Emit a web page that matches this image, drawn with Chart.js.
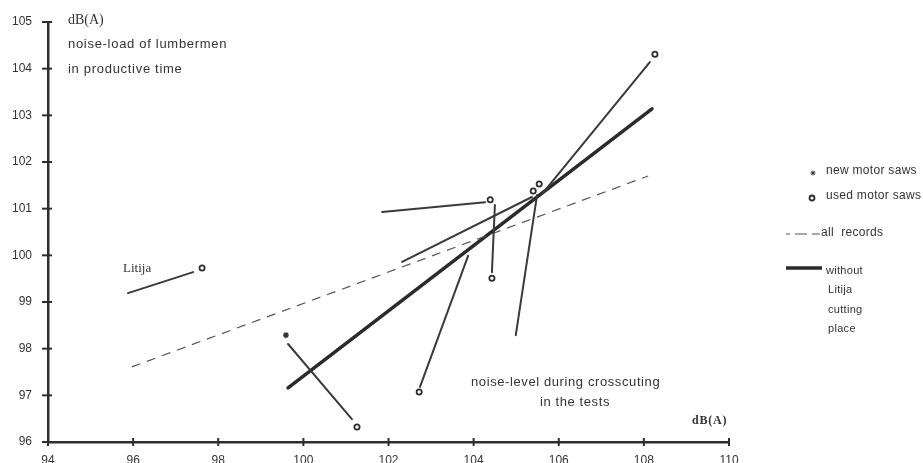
<!DOCTYPE html>
<html>
<head>
<meta charset="utf-8">
<script src="https://cdn.jsdelivr.net/npm/chart.js@4.4.1/dist/chart.umd.min.js"></script>
<style>
  html, body { margin: 0; padding: 0; background: #fff; }
  #wrap { width: 923px; height: 463px; }
</style>
</head>
<body>
<div id="wrap"><canvas id="noise" width="923" height="463"></canvas></div>
<script>
// dB(A): x = noise-level during crosscuting in the tests, y = noise-load in productive time
const xTicks = [94, 96, 98, 100, 102, 104, 106, 108, 110];
const yTicks = [96, 97, 98, 99, 100, 101, 102, 103, 104, 105];

// one line per motor saw (from -> to)
const sawFromX = [95.88, 99.64, 101.85, 104.50, 102.32, 105.49, 102.74, 105.63];
const sawFromY = [99.19, 98.10, 100.93, 101.08, 99.86, 101.29, 97.18, 101.34];
const sawToX   = [97.41, 101.14, 104.27, 104.43, 105.37, 104.99, 103.87, 108.14];
const sawToY   = [99.64, 96.49, 101.14, 99.64, 101.25, 98.29, 99.99, 104.14];

// markers
const usedSawX = [97.62, 101.26, 104.39, 104.43, 105.40, 105.54, 102.72, 108.26];
const usedSawY = [99.73, 96.32, 101.19, 99.51, 101.38, 101.53, 97.07, 104.31];
const newSawX = [99.59];
const newSawY = [98.29];

// regression lines
const allRecordsX = [95.97, 108.10];
const allRecordsY = [97.61, 101.70];
const withoutLitijaX = [99.64, 108.19];
const withoutLitijaY = [97.16, 103.14];

const ink = '#2e2e2e';
const textInk = '#333333';
const sans = '"Liberation Sans", Arial, sans-serif';
const serif = '"Liberation Serif", "Times New Roman", serif';

function pts(xs, ys) {
    return xs.map((x, i) => ({ x: x, y: ys[i] }));
}

const datasets = [];
sawFromX.forEach((x, i) => {
    datasets.push({
        label: 'saw ' + (i + 1),
        data: pts([x, sawToX[i]], [sawFromY[i], sawToY[i]]),
        showLine: true,
        borderColor: '#3a3a3a',
        borderWidth: 2,
        borderCapStyle: 'round',
        pointRadius: 0,
    });
});
datasets.push({
    label: 'all records',
    data: pts(allRecordsX, allRecordsY),
    showLine: true,
    borderColor: '#555',
    borderWidth: 1.2,
    borderDash: [9, 7],
    pointRadius: 0,
});
datasets.push({
    label: 'without Litija cutting place',
    data: pts(withoutLitijaX, withoutLitijaY),
    showLine: true,
    borderColor: '#2b2b2b',
    borderWidth: 3.5,
    borderCapStyle: 'round',
    pointRadius: 0,
});
datasets.push({
    label: 'used motor saws',
    data: pts(usedSawX, usedSawY),
    showLine: false,
    pointStyle: 'circle',
    pointRadius: 2.6,
    pointBorderWidth: 1.8,
    pointBackgroundColor: '#fff',
    pointBorderColor: ink,
});
datasets.push({
    label: 'new motor saws',
    data: pts(newSawX, newSawY),
    showLine: false,
    pointStyle: 'star',
    pointRadius: 3,
    pointBorderWidth: 1.4,
    pointBorderColor: ink,
});

// tick marks that cross the axes ("+" shape)
const crossTicks = {
    id: 'crossTicks',
    afterDraw(chart) {
        const c = chart.ctx, a = chart.chartArea;
        const xs = chart.scales.x, ys = chart.scales.y;
        c.save();
        c.strokeStyle = ink;
        c.lineWidth = 2;
        xTicks.forEach(v => {
            const px = xs.getPixelForValue(v);
            c.beginPath(); c.moveTo(px, a.bottom - 4); c.lineTo(px, a.bottom + 4); c.stroke();
        });
        yTicks.forEach(v => {
            const py = ys.getPixelForValue(v);
            c.beginPath(); c.moveTo(a.left - 6, py); c.lineTo(a.left + 4, py); c.stroke();
        });
        c.restore();
    }
};

// free text and the hand-made key on the right
const notes = {
    id: 'notes',
    afterDraw(chart) {
        const c = chart.ctx;
        c.save();
        c.fillStyle = textInk;
        c.textBaseline = 'middle';
        const say = (t, x, y, font, spacing, align) => {
            c.font = font;
            c.letterSpacing = spacing || '0px';
            c.textAlign = align || 'left';
            c.fillText(t, x, y);
        };
        say('dB(A)', 68, 20, '14px ' + serif);
        say('noise-load of lumbermen', 68, 44, '13px ' + sans, '0.7px');
        say('in productive time', 68, 69, '13px ' + sans, '0.7px');
        say('Litija', 123, 269, '13px ' + serif);
        say('noise-level during crosscuting', 471, 382, '13px ' + sans, '0.6px');
        say('in the tests', 575, 402, '13px ' + sans, '0.6px', 'center');
        say('dB(A)', 692, 421, 'bold 12px ' + serif, '0.8px');

        // key
        c.strokeStyle = ink;
        Chart.helpers.drawPoint(c, { pointStyle: 'star', radius: 2.5, borderWidth: 1.3 }, 813, 173);
        say('new motor saws', 826, 171, '12px ' + sans, '0.3px');
        c.lineWidth = 1.8;
        c.fillStyle = '#fff';
        Chart.helpers.drawPoint(c, { pointStyle: 'circle', radius: 2.5, borderWidth: 1.8 }, 812, 198);
        c.fillStyle = textInk;
        say('used motor saws', 826, 196, '12px ' + sans, '0.3px');

        c.lineWidth = 1.2;
        c.strokeStyle = '#555';
        c.beginPath();
        c.moveTo(786, 234); c.lineTo(790, 234);
        c.moveTo(795, 234); c.lineTo(807, 234);
        c.moveTo(812, 234); c.lineTo(820, 234);
        c.stroke();
        say('all  records', 821, 233, '12px ' + sans, '0.3px');

        c.lineWidth = 3.5;
        c.strokeStyle = '#2b2b2b';
        c.beginPath(); c.moveTo(786, 268); c.lineTo(822, 268); c.stroke();
        say('without', 826, 271, '11px ' + sans, '0.3px');
        say('Litija', 828, 290, '11px ' + sans, '0.3px');
        say('cutting', 828, 310, '11px ' + sans, '0.3px');
        say('place', 828, 329, '11px ' + sans, '0.3px');
        c.restore();
    }
};

new Chart(document.getElementById('noise').getContext('2d'), {
    type: 'scatter',
    data: { datasets: datasets },
    options: {
        responsive: false,
        animation: false,
        layout: { padding: { top: 22, right: 194, left: 0, bottom: 0 } },
        plugins: { legend: { display: false }, tooltip: { enabled: false } },
        scales: {
            x: {
                type: 'linear',
                min: 94,
                max: 110,
                afterFit: scale => { scale.height = 21; },
                afterBuildTicks: scale => { scale.ticks = xTicks.map(v => ({ value: v })); },
                grid: { display: false },
                border: { display: true, color: ink, width: 2.5 },
                ticks: { padding: 3, color: textInk, font: { family: sans, size: 12 } },
            },
            y: {
                type: 'linear',
                min: 96,
                max: 105,
                afterFit: scale => { scale.width = 48; },
                afterBuildTicks: scale => { scale.ticks = yTicks.map(v => ({ value: v })); },
                grid: { display: false },
                border: { display: true, color: ink, width: 2.5 },
                ticks: { padding: 8, color: textInk, font: { family: sans, size: 12 } },
            },
        },
    },
    plugins: [crossTicks, notes],
});
</script>
</body>
</html>
